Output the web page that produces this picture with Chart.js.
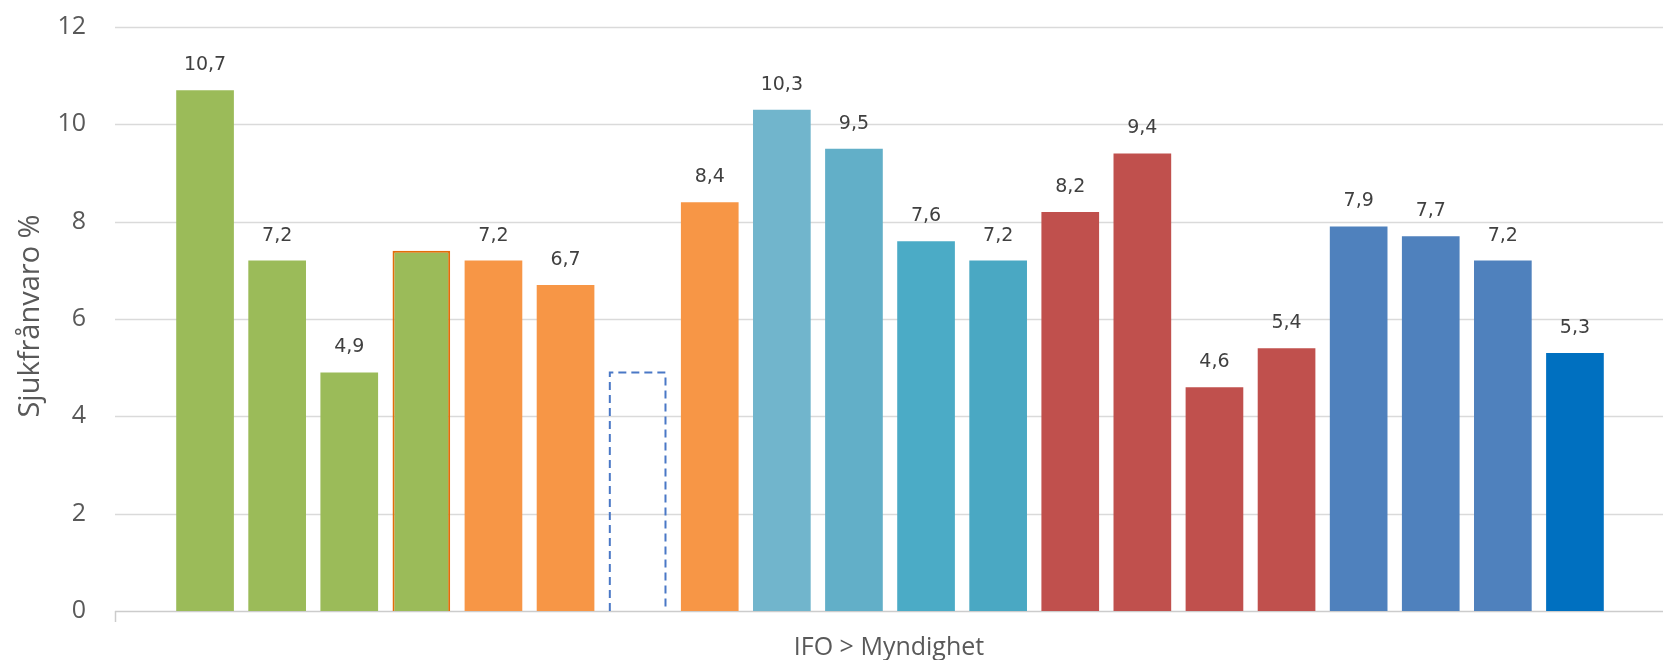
<!DOCTYPE html>
<html>
<head>
<meta charset="utf-8">
<script src="https://cdn.jsdelivr.net/npm/chart.js@4"></script>
<style>
html,body{margin:0;padding:0;background:#fff;}
</style>
</head>
<body>
<canvas id="graph" width="1663" height="660"></canvas>
<script>

// one bar per unit, no visible category names
const categories=["1","2","3","4","5","6","7","8","9","10","11","12","13","14","15","16","17","18","19","20"];
const values=[10.7,7.2,4.9,7.4,7.2,6.7,4.9,8.4,10.3,9.5,7.6,7.2,8.2,9.4,4.6,5.4,7.9,7.7,7.2,5.3];
const unlabeled=[3,6];
const dashedIndex=6;
const yTicks=[0,2,4,6,8,10,12];
const yTitle="Sjukfrånvaro %";
const xTitle="IFO > Myndighet";

const barColors=["#9bbb59","#9bbb59","#9bbb59","#9bbb59","#f79646","#f79646","rgba(0,0,0,0)","#f79646",
"#71b5cc","#62afc8","#4babc6","#4aa8c3","#c0504d","#c0504d","#c0504d","#c0504d",
"#4f81bd","#4f81bd","#4f81bd","#0070c0"];
const borderColors=barColors.map((c,i)=>i==3?"#e46c0a":c);
const borderWidths=barColors.map((c,i)=>i==3?2:0);

const decor={
id:"decor",
beforeDatasetsDraw(c){
let ctx=c.ctx,y=c.scales.y;
ctx.save();
ctx.lineWidth=1.5;
yTicks.forEach(v=>{
let py=Math.round(y.getPixelForValue(v))+0.5;
ctx.strokeStyle=v==0?"#cccccc":"#dadada";
ctx.beginPath();ctx.moveTo(115,py);ctx.lineTo(c.width,py);ctx.stroke();
});
let p0=Math.round(y.getPixelForValue(0));
ctx.strokeStyle="#cccccc";
ctx.beginPath();ctx.moveTo(115.5,p0);ctx.lineTo(115.5,p0+11);ctx.stroke();
ctx.restore();
},
afterDatasetsDraw(c){
let ctx=c.ctx,meta=c.getDatasetMeta(0);
ctx.save();

// the empty bar with a dashed outline
let b=meta.data[dashedIndex];
let l=b.x-b.width/2+1,r=b.x+b.width/2-1;
ctx.setLineDash([8,5]);
ctx.strokeStyle="#4a78c6";
ctx.lineWidth=2;
ctx.beginPath();
ctx.moveTo(l,b.base);ctx.lineTo(l,b.y);ctx.lineTo(r,b.y);ctx.lineTo(r,b.base);
ctx.stroke();
ctx.setLineDash([]);

ctx.font="19px 'DejaVu Sans'";
ctx.fillStyle="#404040";
ctx.textAlign="center";
ctx.textBaseline="middle";
meta.data.forEach((bar,i)=>{
if(unlabeled.includes(i)) return;
ctx.fillText(values[i].toFixed(1).replace(".",","),bar.x,bar.y-25);
});

ctx.fillStyle="#595959";
ctx.font="25px 'Open Sans'";
ctx.fillText(xTitle,(115+c.width)/2,648);

ctx.font="29px 'Open Sans'";
ctx.translate(31,(c.chartArea.top+c.chartArea.bottom)/2-3);
ctx.rotate(-Math.PI/2);
ctx.fillText(yTitle,0,0);
ctx.restore();
}
};

new Chart(document.getElementById("graph"),{
type:"bar",
data:{
labels:categories,
datasets:[{
data:values,
backgroundColor:barColors,
borderColor:borderColors,
borderWidth:borderWidths,
borderSkipped:"start",
barPercentage:0.8,
categoryPercentage:1
}]
},
options:{
responsive:false,
animation:false,
layout:{padding:{top:27,right:52,bottom:49,left:0}},
plugins:{legend:{display:false},tooltip:{enabled:false}},
scales:{
x:{display:false},
y:{
min:0,max:12,
afterFit(s){s.width=169;},
afterBuildTicks(s){s.ticks=yTicks.map(v=>({value:v}));},
ticks:{color:"#595959",font:{family:"Open Sans",size:25},padding:0},
grid:{display:false,drawTicks:true,tickLength:83},
border:{display:false}
}
}
},
plugins:[decor]
});

</script>
</body>
</html>
